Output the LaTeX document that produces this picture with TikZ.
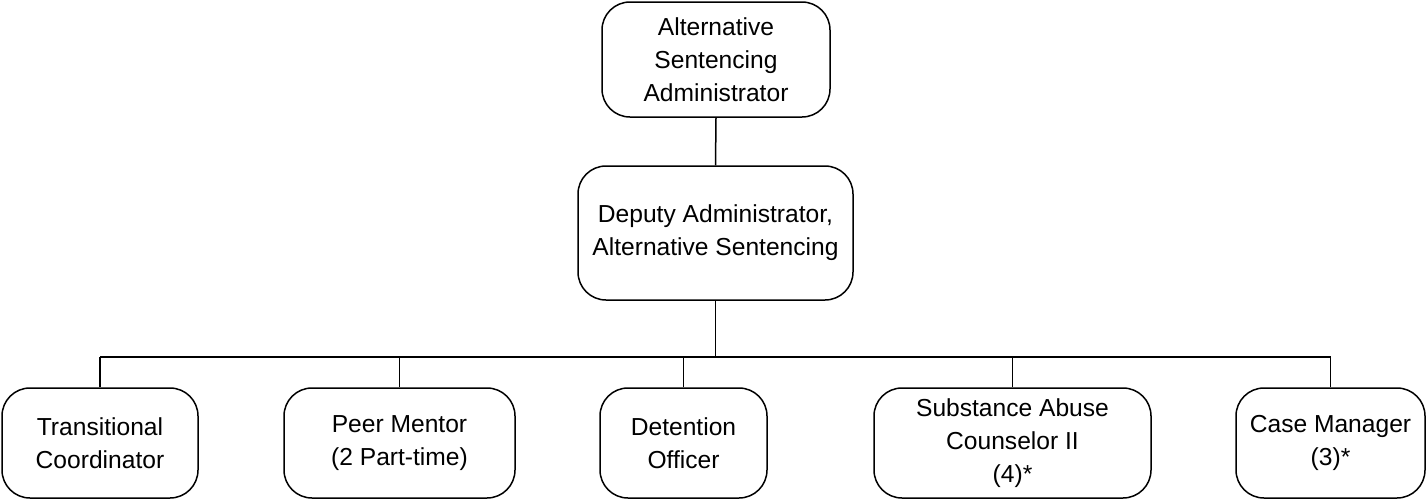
\documentclass[tikz,border=0pt]{standalone}
\usepackage{fontspec}
\setmainfont{Liberation Sans}
\begin{document}
\begin{tikzpicture}[x=1pt,y=-1pt,
  orgbox/.style={draw=black, line width=1.5pt, rounded corners=28pt, align=center,
    inner sep=0pt, font=\fontsize{24.6}{33}\selectfont},
  link/.style={draw=black, line width=1.5pt}]
\useasboundingbox (0,0) rectangle (1427,501);
% top levels
\node[orgbox, minimum width=228pt, minimum height=115pt] (adm) at (716,59.5)
  {Alternative\\Sentencing\\Administrator};
\node[orgbox, minimum width=275pt, minimum height=134pt] (dep) at (715.5,233)
  {Deputy Administrator,\\Alternative Sentencing};
% staff row
\node[orgbox, minimum width=196pt, minimum height=110pt] (tc) at (100,443)
  {Transitional\\Coordinator};
\node[orgbox, minimum width=231pt, minimum height=110pt] (pm) at (399.5,443)
  {Peer Mentor\\(2 Part-time)};
\node[orgbox, minimum width=167pt, minimum height=110pt] (do) at (683.5,443)
  {Detention\\Officer};
\node[orgbox, minimum width=277pt, minimum height=110pt] (sa) at (1012.5,443)
  {Substance Abuse\\Counselor II\\(4)*};
\node[orgbox, minimum width=189pt, minimum height=110pt] (cm) at (1330.5,443)
  {Case Manager\\(3)*};
% connectors
\coordinate (bus) at (715.5,357);
\draw[link] (adm.south) -- (dep.north);
\draw[link] (dep.south) -- (bus);
\draw[link] (tc.north |- bus) -- (cm.north |- bus);
\foreach \n in {tc,pm,do,sa,cm}
  \draw[link] (\n.north) -- (\n.north |- bus);
\end{tikzpicture}
\end{document}
